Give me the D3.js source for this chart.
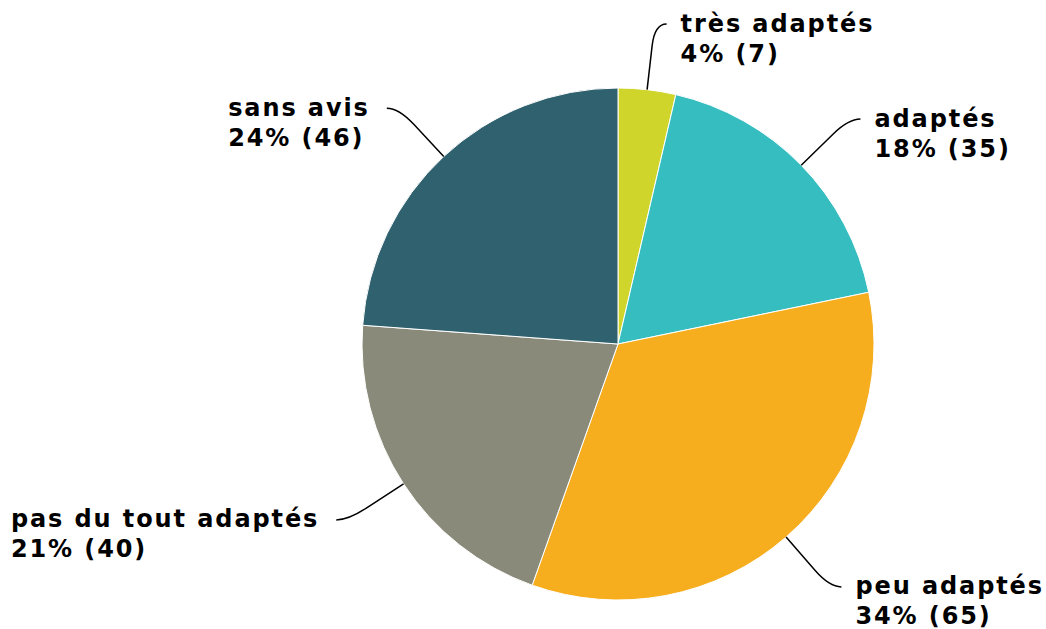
<!DOCTYPE html>
<html><head><meta charset="utf-8">
<script src="https://cdn.jsdelivr.net/npm/d3@7"></script>
<style>body{margin:0;background:#fff}svg{display:block}</style>
</head><body>
<svg id="c" width="1046" height="629"></svg>
<script>
const categories = ["très adaptés","adaptés","peu adaptés","pas du tout adaptés","sans avis"];
const counts = [7,35,65,40,46];
const percents = ["4%","18%","34%","21%","24%"];
const colors = ["#CFD52A","#35BDC0","#F6AE1F","#8A8A7A","#2F616E"];

const svg = d3.select("#c");
const cx = 618, cy = 344, R = 256;
const data = categories.map((c,i)=>({cat:c,count:counts[i],pct:percents[i],color:colors[i]}));
const pie = d3.pie().value(d=>d.count).sort(null);
const arcs = pie(data);
const arc = d3.arc().innerRadius(0).outerRadius(R);
const g = svg.append("g").attr("transform",`translate(${cx},${cy})`);
g.selectAll("path.s").data(arcs).join("path").attr("class","s")
  .attr("d",arc).attr("fill",d=>d.data.color).attr("stroke","#fff").attr("stroke-width",1);

const pt = (a,r)=>[r*Math.sin(a), -r*Math.cos(a)];
arcs.forEach(d=>{
  const a = (d.startAngle+d.endAngle)/2;
  const right = Math.sin(a) >= 0;
  const p0 = pt(a,R), p1 = pt(a,300), c = pt(a,322);
  const end = [c[0] + (right?12:-12), c[1]];
  g.append("path").attr("d",`M${p0}L${p1}Q${c} ${end}`)
    .attr("fill","none").attr("stroke","#000").attr("stroke-width",1.5);
  const t = g.append("text").attr("font-family","DejaVu Sans").attr("font-weight","bold")
    .attr("font-size",24).attr("letter-spacing",1.9).attr("fill","#000");
  const l1 = t.append("tspan").text(d.data.cat);
  const l2 = t.append("tspan").text(`${d.data.pct} (${d.data.count})`);
  const w = Math.max(l1.node().getComputedTextLength(), l2.node().getComputedTextLength());
  const x = right ? end[0]+14 : end[0]-17-w;
  const y = end[1]+7.5;
  l1.attr("x",x).attr("y",y);
  l2.attr("x",x).attr("y",y+30);
});
</script>
</body></html>
